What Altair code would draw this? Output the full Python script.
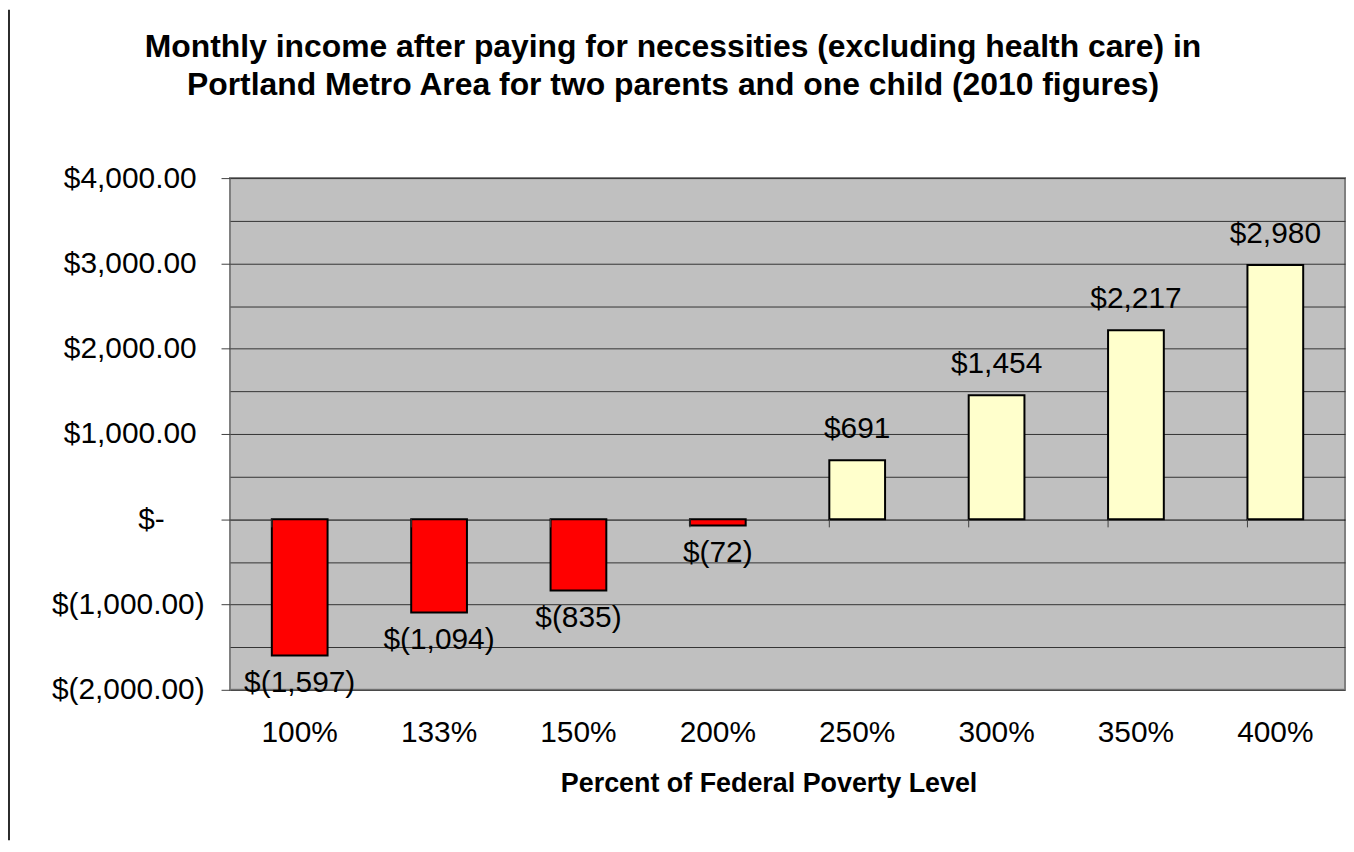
import altair as alt
import pandas as pd

categories = ["100%", "133%", "150%", "200%", "250%", "300%", "350%", "400%"]
values = [-1597, -1094, -835, -72, 691, 1454, 2217, 2980]
y_ticks = [-2000, -1500, -1000, -500, 0, 500, 1000, 1500, 2000, 2500, 3000, 3500, 4000]
title_lines = [
    "Monthly income after paying for necessities (excluding health care) in",
    "Portland Metro Area for two parents and one child (2010 figures)",
]
x_title = "Percent of Federal Poverty Level"


def money(v):
    return "$(" + format(-v, ",") + ")" if v < 0 else "$" + format(v, ",")


df = pd.DataFrame({
    "cat": categories,
    "val": values,
    "label": [money(v) for v in values],
    "sign": ["neg" if v < 0 else "pos" for v in values],
})

FONT = "Liberation Sans"

xscale = alt.Scale(domain=categories, paddingInner=0.6, paddingOuter=0.3)
yscale = alt.Scale(domain=[-2000, 4000], nice=False, zero=False)

label_expr = (
    "datum.value % 1000 !== 0 ? '' : datum.value === 0 ? '$-' : "
    "datum.value < 0 ? '$(' + format(-datum.value, ',.2f') + ')' : "
    "'$' + format(datum.value, ',.2f')"
)

x_axis = alt.Axis(
    title=x_title,
    bandPosition=0.5,
    labelAngle=0,
    labelAlign="center",
    labelFont=FONT,
    labelFontSize=30,
    labelColor="#000000",
    labelPadding=28,
    ticks=False,
    domain=False,
    titleFont=FONT,
    titleFontSize=27,
    titleFontWeight="bold",
    titleColor="#000000",
    titleX=541,
    titleY=102,
    titleBaseline="alphabetic",
)

base = alt.Chart(df)

bars = base.mark_bar(stroke="#000000", strokeWidth=2).encode(
    x=alt.X("cat:N", scale=xscale, sort=categories, axis=x_axis),
    y=alt.Y(
        "val:Q",
        scale=yscale,
        axis=alt.Axis(
            title=None,
            values=y_ticks,
            labelExpr=label_expr,
            labelFont=FONT,
            labelFontSize=30,
            labelColor="#000000",
            labelPadding={
                "condition": [
                    {"test": "datum.value < 0", "value": 17},
                    {"test": "datum.value === 0", "value": 57},
                ],
                "value": 25,
            },
            tickSize=9,
            tickWidth=1,
            tickColor={"condition": {"test": "datum.value % 1000 === 0", "value": "#404040"}, "value": "transparent"},
            domain=False,
            grid=True,
            gridColor={"condition": {"test": "datum.value === 0", "value": "#000000"}, "value": "#333333"},
            gridWidth=1,
            gridOpacity=1,
        ),
    ),
    color=alt.Color(
        "sign:N",
        scale=alt.Scale(domain=["neg", "pos"], range=["#FF0000", "#FFFFCC"]),
        legend=None,
    ),
)

text_pos = base.transform_filter("datum.val >= 0").mark_text(
    font=FONT, fontSize=30, color="#000000", baseline="alphabetic", dy=-22
).encode(
    x=alt.X("cat:N", scale=xscale, sort=categories, axis=x_axis),
    y=alt.Y("val:Q", scale=yscale),
    text="label:N",
)

text_neg = base.transform_filter("datum.val < 0").mark_text(
    font=FONT, fontSize=30, color="#000000", baseline="alphabetic", dy=37
).encode(
    x=alt.X("cat:N", scale=xscale, sort=categories, axis=x_axis),
    y=alt.Y("val:Q", scale=yscale),
    text="label:N",
)

zero_ticks = base.mark_rule(color="#404040", strokeWidth=1).encode(
    x=alt.X("cat:N", scale=xscale, sort=categories, bandPosition=0, axis=x_axis),
    y=alt.datum(0, scale=yscale),
    y2=alt.datum(-95),
)

frame_line = base.transform_filter("datum.cat === '100%'").mark_rule(
    color="#2b2b2b", strokeWidth=2
).encode(
    x=alt.value(-222),
    y=alt.value(-169),
    y2=alt.value(665),
)

chart = alt.layer(bars, text_pos, text_neg, zero_ticks, frame_line).properties(
    width=1120,
    height=514,
    autosize=alt.AutoSizeParams(type="none"),
    padding={"left": 223, "top": 169, "right": 1, "bottom": 151},
    background="#FFFFFF",
    title=alt.TitleParams(
        text=title_lines,
        font=FONT,
        fontSize=32,
        fontWeight="bold",
        color="#000000",
        anchor="middle",
        frame="group",
        dx=-115,
        lineHeight=39,
        baseline="bottom",
        offset=-126,
    ),
).configure_view(
    fill="#C0C0C0",
    stroke="#808080",
    strokeWidth=2,
)

chart.save("out.html", embed_options={"renderer": "svg", "actions": False})
